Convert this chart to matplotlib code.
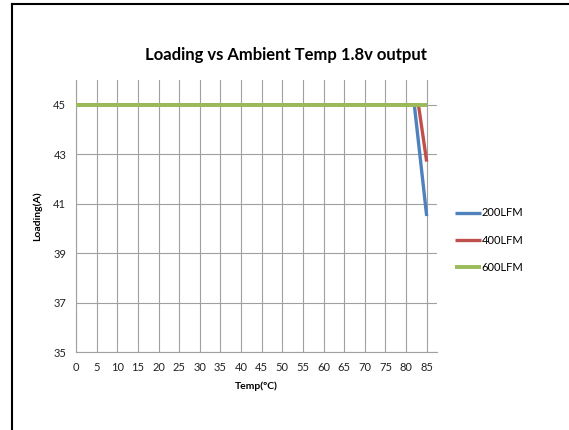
import matplotlib
matplotlib.use("Agg")
import matplotlib.pyplot as plt
from matplotlib.lines import Line2D

plt.rcParams['font.family'] = ['Lato', 'DejaVu Sans']

x_ticks = [0, 5, 10, 15, 20, 25, 30, 35, 40, 45, 50, 55, 60, 65, 70, 75, 80, 85]
y_ticks = [35, 37, 39, 41, 43, 45]

temp_200 = [0, 5, 10, 15, 20, 25, 30, 35, 40, 45, 50, 55, 60, 65, 70, 75, 80, 82, 85]
load_200 = [45, 45, 45, 45, 45, 45, 45, 45, 45, 45, 45, 45, 45, 45, 45, 45, 45, 45, 40.5]
temp_400 = [0, 5, 10, 15, 20, 25, 30, 35, 40, 45, 50, 55, 60, 65, 70, 75, 80, 83, 85]
load_400 = [45, 45, 45, 45, 45, 45, 45, 45, 45, 45, 45, 45, 45, 45, 45, 45, 45, 45, 42.7]
temp_600 = [0, 5, 10, 15, 20, 25, 30, 35, 40, 45, 50, 55, 60, 65, 70, 75, 80, 85]
load_600 = [45, 45, 45, 45, 45, 45, 45, 45, 45, 45, 45, 45, 45, 45, 45, 45, 45, 45]

labels = ["200LFM", "400LFM", "600LFM"]
colors = ["#4f81bd", "#c0504d", "#9bbb59"]
widths = [2.4, 2.4, 2.8]

W, H = 569, 430
fig = plt.figure(figsize=(W / 100, H / 100), dpi=100)
ax = fig.add_axes([76 / W, 1 - 352 / H, (437 - 76) / W, (352 - 80) / H])

for xs, ys, c, lab, lw in zip([temp_200, temp_400, temp_600],
                              [load_200, load_400, load_600], colors, labels, widths):
    ax.plot(xs, ys, color=c, lw=lw, label=lab, solid_capstyle='butt', zorder=3)

ax.set_xlim(0, 87.5)
ax.set_ylim(35, 46)
ax.set_xticks(x_ticks)
ax.set_yticks(y_ticks)
ax.tick_params(length=0, labelsize=8, pad=7, colors='#222222')
ax.grid(True, color='#a0a0a0', lw=0.8)
ax.set_axisbelow(True)
for s in ['top', 'right']:
    ax.spines[s].set_visible(False)
for s in ['left', 'bottom']:
    ax.spines[s].set_color('#a0a0a0')
    ax.spines[s].set_linewidth(0.8)

ax.set_xlabel("Temp(ºC)", fontsize=7.5, fontweight='bold', labelpad=6)
ax.set_ylabel("Loading(A)", fontsize=7.5, fontweight='bold', labelpad=8)

fig.text(0.503, 1 - 55 / H, "Loading vs Ambient Temp 1.8v output",
         fontsize=12, fontweight='bold', ha='center', va='center')

ax.legend(loc='center left', bbox_to_anchor=(455 / W, 1 - 240 / H),
          bbox_transform=fig.transFigure, frameon=False, fontsize=8,
          handlelength=2.3, handletextpad=0.1, labelspacing=1.45,
          borderaxespad=0, borderpad=0)

# outer chart border (top and left visible)
fig.add_artist(Line2D([12 / W, 12 / W], [0, 1 - 4 / H], transform=fig.transFigure,
                      color='black', lw=1.5))
fig.add_artist(Line2D([12 / W, 1], [1 - 4 / H, 1 - 4 / H], transform=fig.transFigure,
                      color='black', lw=1.5))

fig.savefig("out.png", dpi=100)
